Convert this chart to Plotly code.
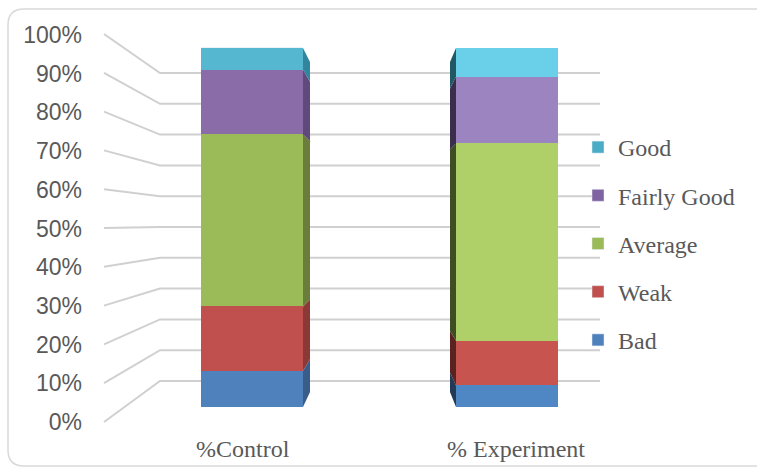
import plotly.graph_objects as go

# ---------------- data ----------------
categories = ["%Control", "% Experiment"]
series_names = ["Bad", "Weak", "Average", "Fairly Good", "Good"]
control_values = [10, 18, 48, 18, 6]
experiment_values = [6, 12.5, 55, 18.5, 8]
tick_values = [0, 10, 20, 30, 40, 50, 60, 70, 80, 90, 100]
tick_labels = ["0%", "10%", "20%", "30%", "40%", "50%", "60%", "70%", "80%", "90%", "100%"]

# ---------------- style ----------------
W, H = 757, 470
front_colors = {  # [control, experiment]
    "Bad": ["#4f81bd", "#4f86c4"],
    "Weak": ["#c0504d", "#c8544f"],
    "Average": ["#9bbb59", "#afcf69"],
    "Fairly Good": ["#8a6ca8", "#9c84c0"],
    "Good": ["#55b8d0", "#6acfe8"],
}
side_colors = {  # [control right face, experiment left face]
    "Bad": ["#385d8a", "#233a56"],
    "Weak": ["#8c3836", "#5a2322"],
    "Average": ["#6b7d3a", "#3f4d22"],
    "Fairly Good": ["#5f4a7b", "#3b2e4c"],
    "Good": ["#31859c", "#215866"],
}
legend_colors = {"Bad": "#4f81bd", "Weak": "#c0504d", "Average": "#9bbb59",
                 "Fairly Good": "#8064a2", "Good": "#4bacc6"}
TEXT = "#595959"
GRID = "#d0d0d0"

# pixel geometry of the pseudo-3D view
CAT0_PX, CAT_STEP_PX = 252, 255
def to_c(px):  # pixel x -> category units
    return (px - CAT0_PX) / CAT_STEP_PX

FRONT0, FRONT_K = 407, 3.59  # front face: 0% at 407px, 3.59 px per %
def to_u(py):  # pixel y -> value units of the front scale
    return (FRONT0 - py) / FRONT_K
def side_px(v):
    return 392 - 3.30 * v
def back_px(v):
    return 381 - 3.08 * v
def left_px(v):
    return 422 - 3.88 * v

BAR_W = 0.4

fig = go.Figure()

values_by_cat = [control_values, experiment_values]
n = len(series_names)
for i, name in enumerate(series_names):
    fig.add_trace(go.Bar(
        x=categories,
        y=[control_values[i], experiment_values[i]],
        name=name,
        width=BAR_W,
        marker=dict(color=front_colors[name], line=dict(width=0)),
        legendgroup=name,
        showlegend=False,
        hoverinfo="skip",
    ))
    # legend proxy with the flat legend colour
    fig.add_trace(go.Bar(
        x=[categories[0]], y=[0], name=name, width=BAR_W,
        marker=dict(color=legend_colors[name]),
        legendgroup=name, legendrank=n - i, showlegend=True, hoverinfo="skip",
    ))

shapes = []
# left wall + back wall gridlines
for v in tick_values:
    path = (f"M{to_c(104)},{to_u(left_px(v))} "
            f"L{to_c(160)},{to_u(back_px(v))} "
            f"L{to_c(600)},{to_u(back_px(v))}")
    shapes.append(dict(type="path", xref="x", yref="y", path=path,
                       line=dict(color=GRID, width=2), layer="below"))

# side faces of the columns
for ci, vals in enumerate(values_by_cat):
    if ci == 0:
        xf, xb = 0 + BAR_W / 2, 0 + BAR_W / 2 + 7 / CAT_STEP_PX
    else:
        xf, xb = 1 - BAR_W / 2, 1 - BAR_W / 2 - 6 / CAT_STEP_PX
    lo = 0
    for name, v in zip(series_names, vals):
        hi = lo + v
        path = (f"M{xf},{lo} L{xf},{hi} "
                f"L{xb},{to_u(side_px(hi))} L{xb},{to_u(side_px(lo))} Z")
        shapes.append(dict(type="path", xref="x", yref="y", path=path,
                           fillcolor=side_colors[name][ci],
                           line=dict(width=0), layer="above"))
        lo = hi

# rounded chart border (paper coords)
def P(x, y):
    return f"{x / W},{1 - y / H}"
x0, y0, x1, y1, r = 8, 9, 775, 466, 16
border = (f"M{P(x0 + r, y0)} L{P(x1 - r, y0)} Q{P(x1, y0)} {P(x1, y0 + r)} "
          f"L{P(x1, y1 - r)} Q{P(x1, y1)} {P(x1 - r, y1)} "
          f"L{P(x0 + r, y1)} Q{P(x0, y1)} {P(x0, y1 - r)} "
          f"L{P(x0, y0 + r)} Q{P(x0, y0)} {P(x0 + r, y0)} Z")
shapes.append(dict(type="path", xref="paper", yref="paper", path=border,
                   line=dict(color="#d9d9d9", width=1.5), layer="below"))

# label axis (value ticks)
fig.add_trace(go.Scatter(x=[None], y=[None], xaxis="x", yaxis="y2",
                         showlegend=False, hoverinfo="skip"))

annotations = []
for cat, shift in zip(categories, [-9, 9]):
    annotations.append(dict(x=cat, y=1 - 449 / H, xref="x", yref="paper",
                            yanchor="middle", xanchor="center",
                            text=cat, showarrow=False, xshift=shift,
                            font=dict(family="Liberation Serif", size=24, color=TEXT)))

fig.update_layout(
    width=W, height=H,
    autosize=False,
    margin=dict(l=0, r=0, t=0, b=0, pad=0),
    paper_bgcolor="white",
    plot_bgcolor="rgba(0,0,0,0)",
    barmode="stack",
    bargap=0,
    showlegend=True,
    xaxis=dict(domain=[0, 1], range=[to_c(0), to_c(W)], visible=False,
               type="category", automargin=False),
    yaxis=dict(domain=[0, 1], range=[to_u(H), to_u(0)], visible=False, automargin=False),
    yaxis2=dict(domain=[1 - 422 / H, 1 - 35 / H], range=[0, 100], anchor="free",
                position=86 / W, side="left", tickvals=tick_values, ticktext=tick_labels,
                showgrid=False, zeroline=False, showline=False, ticks="",
                automargin=False, ticklabelstandoff=4,
                tickfont=dict(family="Liberation Sans", size=23, color=TEXT)),
    legend=dict(x=578 / W, y=1 - 125 / H, xanchor="left", yanchor="top",
                traceorder="grouped", tracegroupgap=14,
                bgcolor="rgba(0,0,0,0)",
                font=dict(family="Liberation Serif", size=24, color=TEXT)),
    shapes=shapes,
    annotations=annotations,
)

fig.write_html("out.html", config={"displayModeBar": False},
               post_script="document.body.style.margin='0px';")
